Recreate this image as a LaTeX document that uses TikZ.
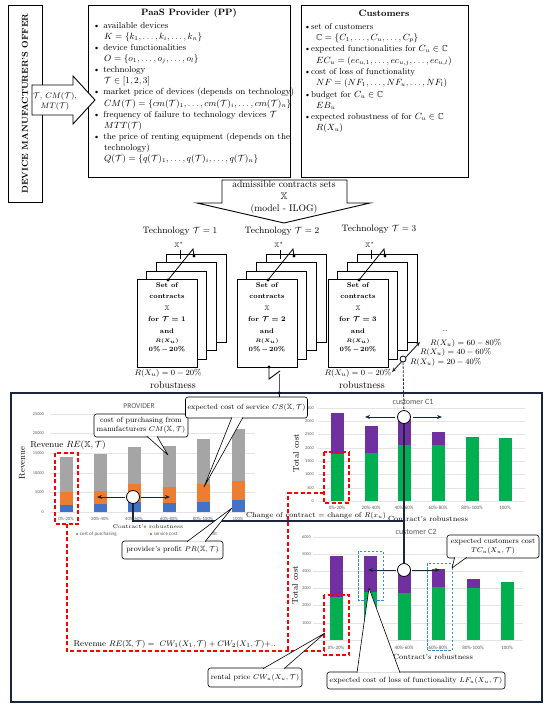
\documentclass[tikz,border=0pt]{standalone}
\usepackage{amsmath,amssymb}
\usepackage{fontspec}
\newfontfamily\chartfont{Carlito}
\usetikzlibrary{arrows.meta}

\definecolor{framecol}{HTML}{17263A}
\definecolor{cpurch}{HTML}{A5A5A5}
\definecolor{cserv}{HTML}{ED7D31}
\definecolor{cprof}{HTML}{4472C4}
\definecolor{cfail}{HTML}{7030A0}
\definecolor{crent}{HTML}{00B050}
\definecolor{dashred}{HTML}{FF0000}
\definecolor{dashblue}{HTML}{2F8FE0}
\definecolor{gridcol}{HTML}{E4E4E4}
\definecolor{labcol}{HTML}{595959}

\newcommand{\fixedlines}{\lineskiplimit=-10pt\relax}

\tikzset{
  box/.style={draw, line width=0.9pt, fill=white},
  callbox/.style={draw, line width=0.6pt, rounded corners=2.5pt, fill=white, align=center,
                  inner sep=2pt, font=\fontsize{7.5}{9}\selectfont},
  chart/.style={font=\chartfont\fontsize{4.3}{5}\selectfont, text=labcol, inner sep=1pt},
  connector/.style={framecol, line width=1.5pt},
  swaparrow/.style={framecol, line width=0.9pt, -{Stealth[length=5pt,width=4pt]}},
  knob/.style={circle, draw, line width=0.8pt, fill=white, minimum size=13pt, inner sep=0pt},
  dot/.style={circle, fill, inner sep=0pt, minimum size=3.2pt},
  reddash/.style={dashred, line width=1.1pt, dash pattern=on 4pt off 2.5pt},
  bluedash/.style={dashblue, line width=0.8pt, dash pattern=on 2.5pt off 1.5pt},
}

% tail of a speech bubble: base point, tip, base point
\newcommand{\calltail}[3]{%
  \fill[white] (#1) -- (#2) -- (#3) -- cycle;
  \draw[line width=0.6pt, line join=round] (#1) -- (#2) -- (#3);}

\begin{document}
\begin{tikzpicture}[x=1pt,y=-1pt]
\useasboundingbox (0,0) rectangle (550,710);

% offer, provider, customers
\node[box, rotate=90, minimum width=197pt, minimum height=34pt, inner sep=0pt,
      font=\bfseries\fontsize{8.6}{10}\selectfont] (offer) at (25,103.5) {DEVICE MANUFACTURER'S OFFER};

\node[box, minimum width=202pt, minimum height=172pt] (pp) at (189,91) {};
\node[font=\bfseries\fontsize{9.2}{11}\selectfont] (ppTitle) at (189,13.5) {PaaS Provider (PP)};
\node[anchor=north west, align=left, inner sep=0pt,
      font=\fontsize{8.8}{11.1}\selectfont\fixedlines] (ppList) at (93,22) {%
  \textbullet\ available devices\\
  \hspace*{11pt}$K=\{k_1,\dots,k_i,\dots,k_n\}$\\
  \textbullet\ device functionalities\\
  \hspace*{11pt}$O=\{o_1,\dots,o_j,\dots,o_l\}$\\
  \textbullet\ technology\\
  \hspace*{11pt}$\mathcal{T}\in[1,2,3]$\\
  \textbullet\ market price of devices (depends on technology)\\
  \hspace*{11pt}$CM(\mathcal{T})=\{cm(\mathcal{T})_1,\dots,cm(\mathcal{T})_i,\dots,cm(\mathcal{T})_n\}$\\
  \textbullet\ frequency of failure to technology devices $\mathcal{T}$\\
  \hspace*{11pt}$MTT(\mathcal{T})$\\
  \textbullet\ the price of renting equipment (depends on the\\
  \hspace*{11pt}technology)\\
  \hspace*{11pt}$Q(\mathcal{T})=\{q(\mathcal{T})_1,\dots,q(\mathcal{T})_i,\dots,q(\mathcal{T})_n\}$};

\node[box, minimum width=167pt, minimum height=172pt] (cust) at (384.5,91) {};
\node[font=\bfseries\fontsize{9.2}{11}\selectfont] (custTitle) at (384,13.5) {Customers};
\node[anchor=north west, align=left, inner sep=0pt,
      font=\fontsize{8.6}{11.3}\selectfont\fixedlines] (custList) at (304,23) {%
  \textbullet set of customers\\
  \hspace*{12pt}$\mathbb{C}=\{C_1,\dots,C_u,\dots,C_p\}$\\
  \textbullet expected functionalities for $C_u\in\mathbb{C}$\\
  \hspace*{12pt}$EC_u=(ec_{u,1},\dots,ec_{u,j},\dots,ec_{u,l})$\\
  \textbullet cost of loss of functionality\\
  \hspace*{12pt}$NF=(NF_1,\dots,NF_u,\dots,NF_l)$\\
  \textbullet budget for $C_u\in\mathbb{C}$\\
  \hspace*{12pt}$EB_u$\\
  \textbullet expected robustness of for $C_u\in\mathbb{C}$\\
  \hspace*{12pt}$R(X_u)$};

% offer arrow
\draw[box] (32,85) -- (73,85) -- (73,76) -- (95,100) -- (73,124) -- (73,115) -- (32,115) -- cycle;
\node[align=center, font=\fontsize{8.3}{10}\selectfont] (offerData) at (55,101.5)
  {$\mathcal{T}$, $CM(\mathcal{T})$,\\$MT(\mathcal{T})$};

% admissible contracts arrow
\draw[box] (222,180) -- (347,180) -- (347,203) -- (370,203) -- (284,223) -- (197,203) -- (222,203) -- cycle;
\node[align=center, font=\fontsize{9.6}{12}\selectfont] (admissible) at (284,197.5)
  {admissible contracts sets\\$\mathbb{X}$\\(model - ILOG)};

\node[font=\fontsize{9.3}{11}\selectfont] (tech1) at (180,231) {Technology $\mathcal{T}=1$};
\node[font=\fontsize{9.3}{11}\selectfont] (tech2) at (282,231) {Technology $\mathcal{T}=2$};
\node[font=\fontsize{9.3}{11}\selectfont] (tech3) at (379,229) {Technology $\mathcal{T}=3$};

% stacks of contract sets
\foreach \sx/\n in {0/1,100/2,191/3}{
  \foreach \dx/\dy in {29/25,19/17,9/8,0/0}
    \draw[box, line width=0.8pt] (137+\sx+\dx,279-\dy) rectangle ++(60,88);
  \node[font=\bfseries\boldmath\fontsize{6.8}{11.4}\selectfont, align=center] (set\n) at (167+\sx,308)
    {Set of\\contracts\\$\mathbb{X}$\\for $\mathcal{T}=\n$\\and};
  \node[font=\bfseries\boldmath\fontsize{5}{6}\selectfont] (setR\n) at (167+\sx,341) {$R(X_u)$};
  \node[font=\bfseries\boldmath\fontsize{6.4}{7}\selectfont] (setP\n) at (167+\sx,349.5) {0\%\,$-$\,20\%};
  \node[font=\fontsize{6.8}{8}\selectfont] (xs\n) at (179+\sx,245) {$\mathbb{X}^{*}$};
  \node[dot] (swA\n) at (168+\sx,280) {};
  \node[dot] (swB\n) at (194+\sx,256) {};
  \coordinate (swK\n) at (193+\sx,249);
  \draw[line width=0.8pt] (swA\n.center) -- (swK\n) -- (swB\n.center);
  \draw[line width=0.8pt] (180+\sx,250) -- (180+\sx,259);
}

\node[font=\fontsize{8.4}{10}\selectfont] (rob1R) at (168,373) {$R(X_u)=0-20\%$};
\node[font=\fontsize{10}{12}\selectfont] (rob1) at (173,385.5) {robustness};
\node[font=\fontsize{8.4}{10}\selectfont] (rob3R) at (358,373) {$R(X_u)=0-20\%$};
\node[font=\fontsize{10}{12}\selectfont] (rob3) at (362,385.5) {robustness};
\node[font=\fontsize{8.4}{10}\selectfont] (robDots) at (445,331) {\dots};
\node[anchor=west, inner sep=0pt, font=\fontsize{8.4}{10}\selectfont] (rob60) at (430,343) {$R(X_u)=60-80\%$};
\node[anchor=west, inner sep=0pt, font=\fontsize{8.4}{10}\selectfont] (rob40) at (420,352.5) {$R(X_u)=40-60\%$};
\node[anchor=west, inner sep=0pt, font=\fontsize{8.4}{10}\selectfont] (rob20) at (410,362.5) {$R(X_u)=20-40\%$};

% frame of the charts
\draw[framecol, line width=2.2pt] (11,393) rectangle (542,702);

% provider chart
\foreach \yv in {0,50,...,250}
  \draw[gridcol, line width=0.4pt] (50,{512-\yv*0.392}) -- (255,{512-\yv*0.392});
\foreach \yv/\lab [count=\i] in {0/0,50/5000,100/10000,150/15000,200/20000,250/25000}
  \node[chart, anchor=east] (provY\i) at (45,{512-\yv*0.392}) {\lab};
\foreach \bx/\pr/\sv/\tot/\lab [count=\i] in {66/18/51/140/0\%-20\%,100/20/54/147/20\%-40\%,
    134/26/71/165/40\%-60\%,169/23/64/169/60\%-80\%,203/26/72/186/80\%-100\%,238/30/80/211/100\%}{
  \fill[cprof] (\bx-6.5,512) rectangle (\bx+6.5,{512-\pr*0.392});
  \fill[cserv] (\bx-6.5,{512-\pr*0.392}) rectangle (\bx+6.5,{512-\sv*0.392});
  \fill[cpurch] (\bx-6.5,{512-\sv*0.392}) rectangle (\bx+6.5,{512-\tot*0.392});
  \node[chart, font=\chartfont\fontsize{4.7}{5}\selectfont] (provX\i) at (\bx,518.5) {\lab};
}
\foreach \lx/\col/\lab [count=\i] in {76/cpurch/cost of purchasing,150/cserv/service cost,202/cprof/profit}{
  \fill[\col] (\lx,532.8) rectangle ++(2.4,2.4);
  \node[chart, anchor=west, font=\chartfont\fontsize{5}{6}\selectfont] (provLeg\i) at (\lx+2.6,534) {\lab};
}
\node[font=\chartfont\fontsize{7.5}{9}\selectfont, text=labcol] (provTitle) at (139,406) {PROVIDER};
\node[rotate=90, font=\fontsize{8.6}{10}\selectfont] (provYlab) at (22,463) {Revenue};
\node[font=\fontsize{5.4}{6}\selectfont] (provXlab) at (148,527) {Contract's robustness};
\node[font=\fontsize{8.8}{10}\selectfont] (reLab) at (68,445) {Revenue $RE(\mathbb{X},\mathcal{T})$};

% customer C1 chart
\foreach \yv in {0,5,...,35}
  \draw[gridcol, line width=0.4pt] (318,{501-\yv*2.657}) -- (525,{501-\yv*2.657});
\foreach \yv/\lab [count=\i] in {0/0,5/500,10/1000,15/1500,20/2000,25/2500,30/3000,35/3500}
  \node[chart, anchor=east] (c1Y\i) at (315,{501-\yv*2.657}) {\lab};
\foreach \bx/\gr/\tot/\lab [count=\i] in {337/17.7/33.1/0\%-20\%,371/18/28.2/20\%-40\%,404/21/31/40\%-60\%,
    438/21/26/60\%-80\%,472/24/24/80\%-100\%,505/23.7/23.7/100\%}{
  \fill[crent] (\bx-6.5,501) rectangle (\bx+6.5,{501-\gr*2.657});
  \fill[cfail] (\bx-6.5,{501-\gr*2.657}) rectangle (\bx+6.5,{501-\tot*2.657});
  \node[chart, font=\chartfont\fontsize{5}{6}\selectfont] (c1X\i) at (\bx,508) {\lab};
}
\node[font=\chartfont\fontsize{8}{9}\selectfont, text=labcol] (c1Title) at (413,402) {customer C1};
\node[rotate=90, font=\fontsize{8.3}{10}\selectfont] (c1Ylab) at (296,453) {Total cost};
\node[font=\fontsize{7.4}{9}\selectfont] (c1Xlab) at (428,519) {Contract's robustness};

% customer C2 chart
\foreach \yv in {0,10,...,60}
  \draw[gridcol, line width=0.4pt] (313,{640-\yv*1.72}) -- (523,{640-\yv*1.72});
\foreach \yv/\lab [count=\i] in {10/1000,20/2000,30/3000,40/4000,50/5000,60/6000}
  \node[chart, anchor=east] (c2Y\i) at (312,{640-\yv*1.72}) {\lab};
\foreach \bx/\gr/\tot/\lab [count=\i] in {336/25/48.7/0\%-20\%,370/28/48.7/20\%-40\%,404/27.5/41/40\%-60\%,
    438/30.8/41.3/60\%-80\%,473/30.3/35.5/80\%-100\%,507/33.7/33.7/100\%}{
  \fill[crent] (\bx-6.5,640) rectangle (\bx+6.5,{640-\gr*1.72});
  \fill[cfail] (\bx-6.5,{640-\gr*1.72}) rectangle (\bx+6.5,{640-\tot*1.72});
  \node[chart, font=\chartfont\fontsize{5}{6}\selectfont] (c2X\i) at (\bx,647.5) {\lab};
}
\node[font=\chartfont\fontsize{8}{9}\selectfont, text=labcol] (c2Title) at (416,532) {customer C2};
\node[rotate=90, font=\fontsize{8.3}{10}\selectfont] (c2Ylab) at (295,585) {Total cost};
\node[font=\fontsize{7.4}{9}\selectfont] (c2Xlab) at (433,657) {Contract's robustness};

\node[font=\fontsize{7.3}{9}\selectfont] (changeLab) at (316,516) {Change of contract $=$ change of $R(x_u)$};
\node[anchor=west, font=\fontsize{8.4}{10}\selectfont] (sumLab) at (70,644)
  {Revenue $RE(\mathbb{X},\mathcal{T})=\ CW_1(X_1,\mathcal{T})+CW_2(X_1,\mathcal{T})+$..};

% dashed marks
\draw[reddash] (55,453) rectangle (78,524);
\draw[reddash] (324,452) rectangle (349,503);
\draw[reddash] (324,595) rectangle (349,655);
\draw[reddash] (67,524) -- (67,651) -- (324,651);
\draw[reddash] (324,493) -- (288,493) -- (288,651);
\draw[bluedash] (358,551) rectangle (383,600);
\draw[bluedash] (427,563) rectangle (452,650);

% change of contract
\node[knob] (provKnob) at (133,497) {};
\node[knob] (c1Knob) at (404,417) {};
\node[knob] (c2Knob) at (404,570) {};
\coordinate (treeL) at (133,521);
\coordinate (treeR) at (404,521);
\draw[connector] (provKnob) -- (treeL) -- (treeR);
\draw[connector] (c1Knob) -- (c2Knob);
\coordinate (provL) at (97,497);  \coordinate (provR) at (170,497);
\coordinate (c1L) at (365,417);   \coordinate (c1R) at (442,417);
\coordinate (c2L) at (368,570);   \coordinate (c2R) at (440,570);
\draw[swaparrow] ([xshift=-1pt]provKnob.west) -- (provL);
\draw[swaparrow] ([xshift=1pt]provKnob.east) -- (provR);
\draw[swaparrow] ([xshift=-2pt]c1Knob.west) -- (c1L);
\draw[swaparrow] ([xshift=2pt]c1Knob.east) -- (c1R);
\draw[swaparrow] ([xshift=-1pt]c2Knob.west) -- (c2L);
\draw[swaparrow] ([xshift=1pt]c2Knob.east) -- (c2R);

% robustness slider
\coordinate (slideLo) at (392,372);
\coordinate (slideHi) at (420,342);
\draw[framecol, line width=0.9pt, {Stealth[length=4.5pt,width=3.5pt]}-{Stealth[length=4.5pt,width=3.5pt]}] (slideLo) -- (slideHi);
\node[circle, draw, fill=white, line width=0.8pt, minimum size=6pt, inner sep=0pt] (slider) at (403,359) {};
\draw[framecol, line width=0.8pt, dash pattern=on 2.5pt off 1.5pt] (slider) -- (c1Knob);

% callouts
\node[callbox, minimum width=94pt, minimum height=23pt] (cmBox) at (141,425.5)
  {cost of purchasing from\\manufacturers $CM(\mathbb{X},\mathcal{T})$};
\coordinate (cmTip) at (168,455);
\calltail{[xshift=6pt,yshift=1pt]cmBox.south}{cmTip}{[xshift=16pt,yshift=1pt]cmBox.south}

\node[callbox, minimum width=111pt, minimum height=21pt] (csBox) at (246.5,407.5)
  {expected cost of service $CS(\mathbb{X},\mathcal{T})$};
\coordinate (csTip) at (204,487);
\calltail{[xshift=-14.5pt,yshift=1pt]csBox.south}{csTip}{[xshift=-3.5pt,yshift=1pt]csBox.south}

\node[callbox, minimum width=101pt, minimum height=18pt] (prBox) at (172.5,550)
  {provider's profit $PR(\mathbb{X},\mathcal{T})$};
\coordinate (prTip) at (232,508);
\calltail{[xshift=14.5pt,yshift=-1pt]prBox.north}{prTip}{[xshift=32.5pt,yshift=-1pt]prBox.north}

\node[callbox, minimum width=92pt, minimum height=23pt] (tcBox) at (493,546.5)
  {expected customers cost\\$TC_u(X_u,\mathcal{T})$};
\coordinate (tcTip) at (452,568);
\calltail{[xshift=8pt,yshift=1pt]tcBox.south west}{tcTip}{[xshift=20pt,yshift=1pt]tcBox.south west}

\node[callbox, minimum width=178pt, minimum height=17pt] (lfBox) at (416,680.5)
  {expected cost of loss of functionality $LF_u(X_u,\mathcal{T})$};
\coordinate (lfTip) at (369,588);
\calltail{[xshift=-59pt,yshift=-1pt]lfBox.north}{lfTip}{[xshift=-16pt,yshift=-1pt]lfBox.north}

\node[callbox, minimum width=94pt, minimum height=19pt] (cwBox) at (255,677.5)
  {rental price $CW_u(X_u,\mathcal{T})$};
\coordinate (cwTip) at (325,633);
\calltail{[xshift=8pt,yshift=-1pt]cwBox.north}{cwTip}{[xshift=29pt,yshift=-1pt]cwBox.north}

% link from technology 2 to the provider
\node[dot] (sw2a) at (269,367) {};
\coordinate (sw2b) at (269,379);
\coordinate (sw2c) at (280,371);
\coordinate (sw2e) at (279,374);
\node[dot] (sw2d) at (279,393) {};
\draw[line width=0.9pt] (sw2a.center) -- (sw2b) -- (sw2c);
\draw[line width=0.9pt] (sw2e) -- (sw2d.center) -- (sw2d.center |- csBox.north);
\end{tikzpicture}
\end{document}
